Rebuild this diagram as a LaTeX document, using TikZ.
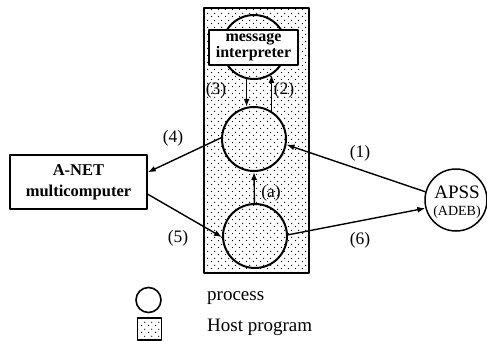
\documentclass[tikz,border=0pt]{standalone}
\usepackage{fontspec}
\setmainfont{Liberation Serif}
\usetikzlibrary{arrows.meta,patterns}
\pgfdeclarepatternformonly{stipple}{\pgfpointorigin}{\pgfpoint{7pt}{7pt}}{\pgfpoint{7pt}{7pt}}{%
  \pgfpathcircle{\pgfpoint{1.75pt}{1.75pt}}{0.75pt}%
  \pgfpathcircle{\pgfpoint{5.25pt}{5.25pt}}{0.75pt}%
  \pgfusepath{fill}}
\tikzset{
  hostbox/.style={rectangle, draw, line width=2pt, pattern=stipple, inner sep=0pt},
  proc/.style={circle, draw, line width=2pt, minimum size=64pt, inner sep=0pt},
  whitebox/.style={rectangle, draw, line width=1.5pt, fill=white, inner sep=0pt, align=center,
    font=\fontsize{16}{17}\selectfont\bfseries},
  lbl/.style={inner sep=0pt, font=\fontsize{17.5}{19}\selectfont},
  legtxt/.style={inner sep=0pt, anchor=west, font=\fontsize{19}{21}\selectfont},
  arr/.style={line width=1.4pt, -{Latex[length=8pt,width=6pt]}},
}
\begin{document}
\begin{tikzpicture}[x=1pt, y=-1pt, line join=round]
\useasboundingbox (0,0) rectangle (487,340);
% host program
\node[hostbox, minimum width=105pt, minimum height=265pt] (host) at (256,140) {};
% processes
\node[proc] (mi) at (254,47) {};
\node[proc] (up) at (254,139) {};
\node[proc] (low) at (255,236) {};
\node[whitebox, minimum width=89pt, minimum height=35pt] (mibox) at (253.5,47.5) {message\\[-1pt]interpreter};
% A-NET
\node[whitebox, minimum width=137pt, minimum height=54pt, font=\fontsize{16.5}{21}\selectfont\bfseries] (anet) at (78.5,182) {A-NET\\multicomputer};
% APSS
\node[proc, minimum size=62pt, line width=1.5pt] (apss) at (456,200) {};
\node[lbl, font=\fontsize{19}{20}\selectfont] (apsst) at (457,192) {APSS};
\node[lbl, font=\fontsize{14}{15}\selectfont] (adeb) at (457,212) {(ADEB)};
% connectors
\draw[arr] (mi.257) -- (up.103);
\draw[arr] (up.58) -- (mi.302);
\draw[arr] (low.91) -- (up.270);
\draw[arr] (up.178) -- (anet.8);
\draw[arr] (anet.350) -- (low.182);
\draw[arr] (apss.165) -- (up.-10);
\draw[arr] (low.2) -- (apss.195);
% labels
\node[lbl] (l1) at (360,153) {(1)};
\node[lbl] (l2) at (284,90) {(2)};
\node[lbl] (l3) at (216,90) {(3)};
\node[lbl] (l4) at (173,138) {(4)};
\node[lbl] (l5) at (178,238) {(5)};
\node[lbl] (l6) at (360,240) {(6)};
\node[lbl] (la) at (271,193) {(a)};
% legend
\node[circle, draw, line width=1.6pt, minimum size=25pt, inner sep=0pt] (legc) at (148.5,300) {};
\node[rectangle, draw, line width=1.6pt, pattern=stipple, minimum width=24pt, minimum height=22pt, inner sep=0pt] (legr) at (149.5,329) {};
\node[legtxt] (legct) at (207,298) {process};
\node[legtxt] (legrt) at (207,327) {Host program};
\end{tikzpicture}
\end{document}
